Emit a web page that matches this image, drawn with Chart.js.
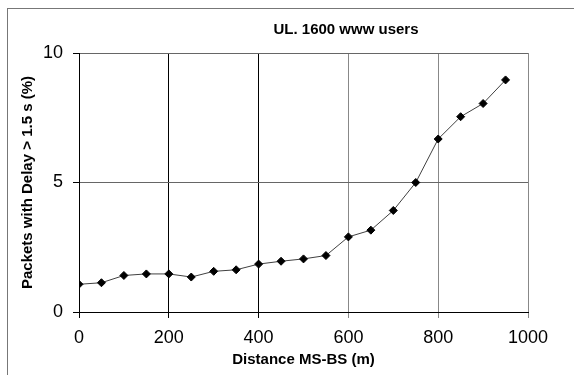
<!DOCTYPE html>
<html>
<head>
<meta charset="utf-8">
<script src="https://cdn.jsdelivr.net/npm/chart.js@4/dist/chart.umd.min.js"></script>
<style>
  html, body { margin: 0; padding: 0; background: #fff; overflow: hidden; }
  #wrap { position: relative; width: 574px; height: 375px; }
  #frame { position: absolute; left: 7px; top: 8px; width: 600px; height: 400px;
           border-left: 1px solid #777; border-top: 1px solid #777; }
  canvas { position: absolute; left: 0; top: 0; }
</style>
</head>
<body>
<div id="wrap">
  <div id="frame"></div>
  <canvas id="c" width="574" height="375"></canvas>
</div>
<script>
const chartTitle = "UL. 1600 www users";
const xAxisTitle = "Distance MS-BS (m)";
const yAxisTitle = "Packets with Delay > 1.5 s (%)";
const distances = [0, 50, 100, 150, 200, 250, 300, 350, 400, 450, 500, 550, 600, 650, 700, 750, 800, 850, 900, 950];
const delayedPct = [1.07, 1.13, 1.41, 1.47, 1.47, 1.35, 1.57, 1.63, 1.85, 1.96, 2.05, 2.18, 2.9, 3.16, 3.92, 5.0, 6.68, 7.54, 8.05, 8.96];
const xTicks = [0, 200, 400, 600, 800, 1000];
const yTicks = [0, 5, 10];

const FONT = "'Liberation Sans', Arial, sans-serif";

const titlePlugin = {
  id: 'offsetTitle',
  afterDraw(chart) {
    const ctx = chart.ctx;
    ctx.save();
    ctx.font = "bold 15px " + FONT;
    ctx.fillStyle = '#000';
    ctx.textAlign = 'center';
    ctx.textBaseline = 'middle';
    ctx.fillText(chartTitle, 346, 30);
    ctx.restore();
  }
};

new Chart(document.getElementById('c'), {
  type: 'line',
  data: {
    datasets: [{
      data: distances.map((d, i) => ({ x: d, y: delayedPct[i] })),
      borderColor: '#404040',
      borderWidth: 1,
      pointStyle: 'rectRot',
      pointRadius: 4,
      pointBackgroundColor: '#000',
      pointBorderColor: '#000',
      pointBorderWidth: 1,
      tension: 0,
      fill: false
    }]
  },
  options: {
    responsive: false,
    animation: false,
    events: [],
    layout: { padding: { left: 0, top: 53, right: 46, bottom: 0 } },
    plugins: { legend: { display: false }, tooltip: { enabled: false }, title: { display: false } },
    scales: {
      x: {
        type: 'linear',
        min: 0, max: 1000,
        afterBuildTicks: s => { s.ticks = xTicks.map(v => ({ value: v })); },
        afterFit: s => { s.height = 63; },
        grid: {
          color: ctx => (ctx.tick && ctx.tick.value <= 400) ? '#000' : '#888',
          tickColor: ctx => (ctx.tick && ctx.tick.value <= 400) ? '#000' : '#888',
          tickLength: 6,
          lineWidth: 1
        },
        border: { display: true, color: '#000', width: 1 },
        ticks: { color: '#000', font: { family: FONT, size: 18 }, padding: 9, maxRotation: 0,
                 callback: v => String(v) },
        title: {
          display: true, text: xAxisTitle, color: '#000',
          font: { family: FONT, size: 15, weight: 'bold', lineHeight: 1 },
          padding: { top: 0, bottom: 8 }
        }
      },
      y: {
        type: 'linear',
        min: 0, max: 10,
        afterBuildTicks: s => { s.ticks = yTicks.map(v => ({ value: v })); },
        afterFit: s => { s.width = 79; },
        grid: { color: '#666', tickColor: '#000', tickLength: 6, lineWidth: 1 },
        border: { display: true, color: '#000', width: 1 },
        ticks: { color: '#000', font: { family: FONT, size: 18 }, padding: 10,
                 callback: v => String(v) },
        title: {
          display: true, text: yAxisTitle, color: '#000',
          font: { family: FONT, size: 15, weight: 'bold', lineHeight: 1 },
          padding: { top: 20, bottom: 0 }
        }
      }
    }
  },
  plugins: [titlePlugin]
});
</script>
</body>
</html>
